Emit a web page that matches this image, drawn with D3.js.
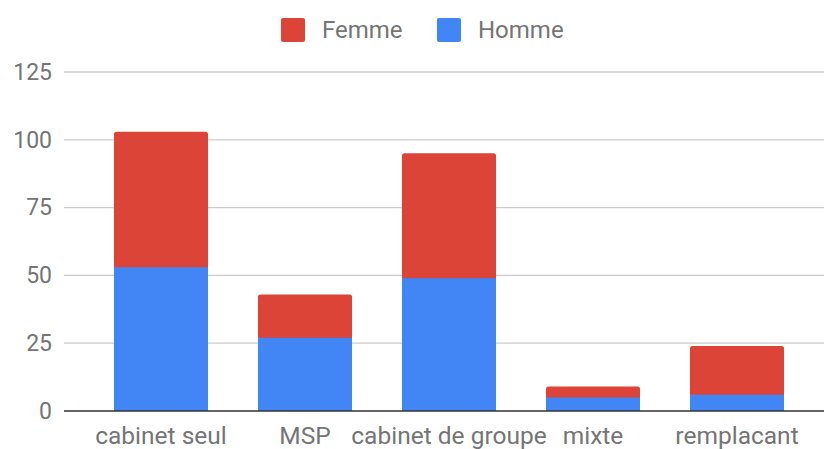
<!DOCTYPE html>
<html>
<head>
<meta charset="utf-8">
<script src="https://cdn.jsdelivr.net/npm/d3@7"></script>
<style>
  body { margin: 0; background: #fff; }
  text { font-family: Roboto, "Noto Sans", sans-serif; fill: #757575; }
</style>
</head>
<body>
<svg id="chart"></svg>
<script>
// chart data
const categories = ['cabinet seul', 'MSP', 'cabinet de groupe', 'mixte', 'remplacant'];
const homme = [53, 27, 49, 5, 6];
const femme = [50, 16, 46, 4, 18];
const yTicks = [0, 25, 50, 75, 100, 125];
const seriesNames = ['Femme', 'Homme'];

const width = 824, height = 449;
const margin = { top: 72, right: 0, bottom: 38, left: 64 };
const colors = { Homme: '#4285f4', Femme: '#db4437' };

const rows = categories.map((c, i) => ({ cat: c, Homme: homme[i], Femme: femme[i] }));

const svg = d3.select('#chart')
    .attr('width', width)
    .attr('height', height);

// scales
const xScale = d3.scaleBand()
    .domain(categories)
    .range([89, 809])
    .paddingInner(0.347)
    .paddingOuter(0.1735);

const yScale = d3.scaleLinear()
    .domain([0, 125])
    .range([411, 72]);

// gridlines
svg.append('g')
    .selectAll('line')
    .data(yTicks.filter(d => d > 0))
    .join('line')
    .attr('x1', margin.left)
    .attr('x2', width)
    .attr('y1', d => yScale(d))
    .attr('y2', d => yScale(d))
    .attr('stroke', '#cccccc')
    .attr('stroke-width', 1.3);

// y labels
const yAxis = d3.axisLeft(yScale).tickValues(yTicks).tickSize(0).tickPadding(0);
svg.append('g')
    .attr('transform', 'translate(52,0)')
    .call(yAxis)
    .call(g => g.select('.domain').remove())
    .call(g => g.selectAll('text')
        .attr('font-size', 23)
        .attr('fill', '#757575')
        .attr('font-family', 'Roboto, sans-serif'));

// stacked bars
const stack = d3.stack().keys(['Homme', 'Femme']);
const stacked = stack(rows);

svg.append('g')
    .selectAll('g')
    .data(stacked.slice().reverse())
    .join('g')
    .attr('fill', d => colors[d.key])
    .selectAll('rect')
    .data(d => d.map(v => Object.assign(v, { key: d.key })))
    .join('rect')
    .attr('x', d => xScale(d.data.cat))
    .attr('width', xScale.bandwidth())
    .attr('y', d => yScale(d[1]))
    .attr('height', d => yScale(d[0]) - yScale(d[1]) + (d.key === 'Femme' ? 4 : 0))
    .attr('rx', d => d.key === 'Femme' ? 2.5 : 0);

// baseline
svg.append('line')
    .attr('x1', margin.left)
    .attr('x2', width)
    .attr('y1', yScale(0))
    .attr('y2', yScale(0))
    .attr('stroke', '#333333')
    .attr('stroke-width', 1.6);

// x labels
const xAxis = d3.axisBottom(xScale).tickSize(0).tickPadding(0);
svg.append('g')
    .attr('transform', 'translate(0,427)')
    .call(xAxis)
    .call(g => g.select('.domain').remove())
    .call(g => g.selectAll('text')
        .attr('font-size', 24.5)
        .attr('fill', '#757575')
        .attr('font-family', 'Roboto, sans-serif'));

// legend
const legendX = [281, 437];
const legend = svg.append('g')
    .selectAll('g')
    .data(seriesNames)
    .join('g')
    .attr('transform', (d, i) => `translate(${legendX[i]},18)`);

legend.append('rect')
    .attr('width', 24)
    .attr('height', 24)
    .attr('rx', 2)
    .attr('fill', d => colors[d]);

legend.append('text')
    .attr('x', 41)
    .attr('y', 12)
    .attr('dy', '0.35em')
    .attr('font-size', 24)
    .text(d => d);
</script>
</body>
</html>
